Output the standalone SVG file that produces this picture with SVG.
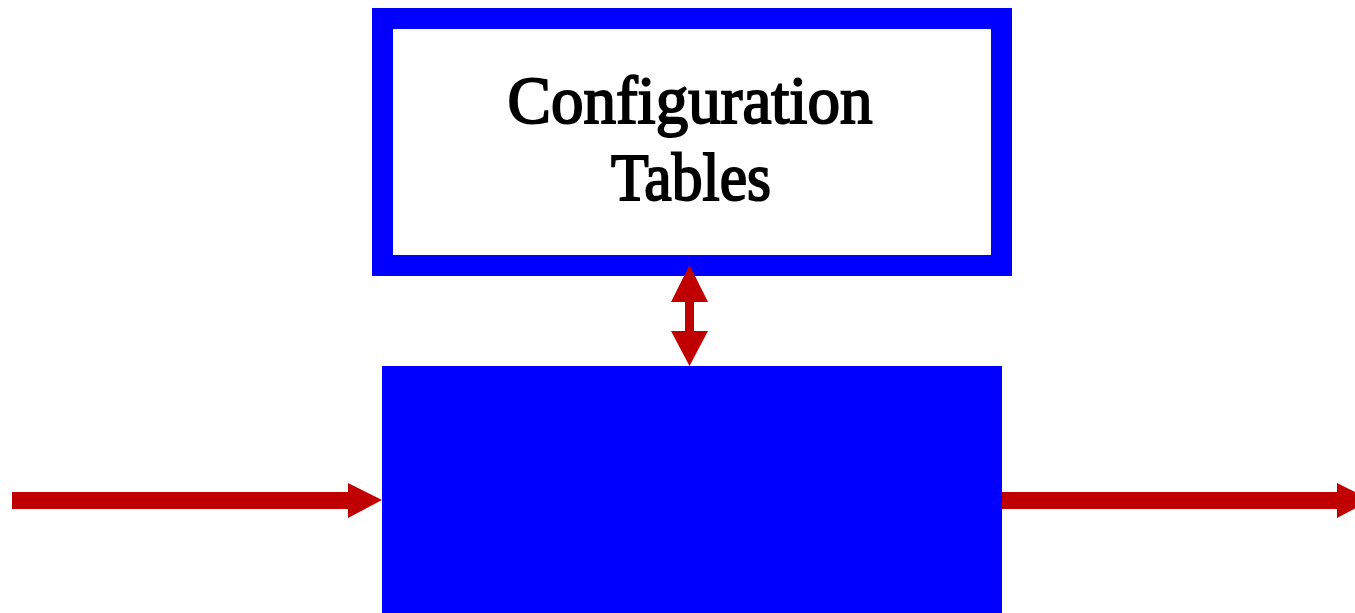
<svg xmlns="http://www.w3.org/2000/svg" width="1355" height="613" viewBox="0 0 1355 613">
  <style>
    .frame { fill: #ffffff; stroke: #0000ff; stroke-width: 21; }
    .block { fill: #0000ff; }
    .label { font-family: "Liberation Serif", "Times New Roman", serif; font-size: 68px; fill: #000000; text-anchor: middle; stroke: #000000; stroke-width: 2; }
    .flow { fill: #c00000; }
  </style>
  <rect width="1355" height="613" fill="#ffffff"/>

  <g id="config-tables">
    <rect class="frame" x="382.5" y="18.5" width="619" height="247"/>
    <text class="label" x="690" y="123" textLength="365" lengthAdjust="spacingAndGlyphs">Configuration</text>
    <text class="label" x="691" y="200" textLength="160" lengthAdjust="spacingAndGlyphs">Tables</text>
  </g>

  <g id="processor">
    <rect class="block" x="382" y="366" width="620" height="250"/>
  </g>

  <g id="connectors">
    <!-- input arrow -->
    <polygon class="flow" points="12,492 348,492 348,483 382,500 348,518 348,509 12,509"/>
    <!-- output arrow -->
    <polygon class="flow" points="1002,492 1337,492 1337,483 1371,500 1337,518 1337,509 1002,509"/>
    <!-- two-way link between tables and processor -->
    <polygon class="flow" points="689.5,265 708,302 694,302 694,331 708,331 689.5,366 671,331 685,331 685,302 671,302"/>
  </g>
</svg>
